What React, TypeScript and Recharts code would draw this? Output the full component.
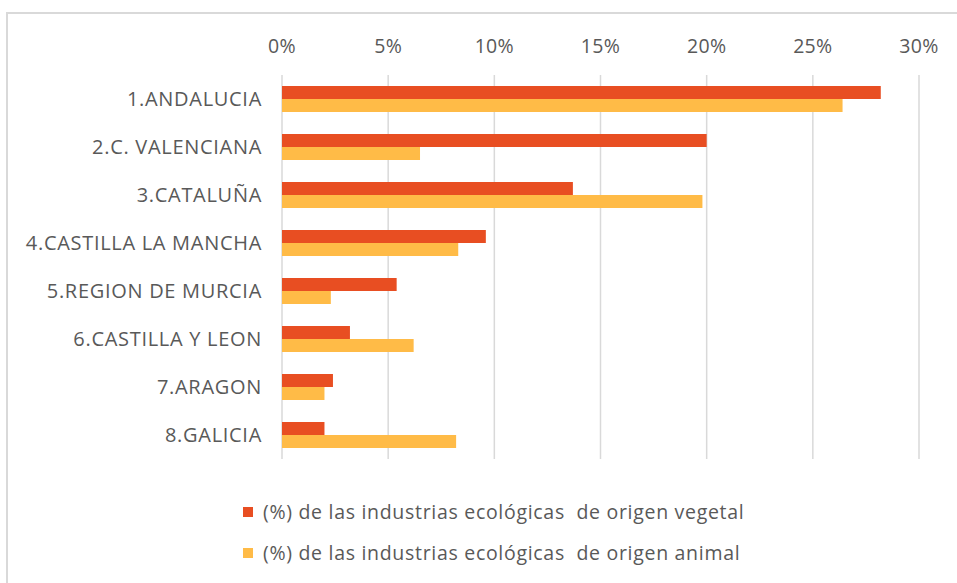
import { BarChart, Bar, XAxis, YAxis, CartesianGrid, Legend } from "recharts";

const regions = [
  "1.ANDALUCIA",
  "2.C. VALENCIANA",
  "3.CATALUÑA",
  "4.CASTILLA LA MANCHA",
  "5.REGION DE MURCIA",
  "6.CASTILLA Y LEON",
  "7.ARAGON",
  "8.GALICIA",
];
const vegetal = [28.2, 20.0, 13.7, 9.6, 5.4, 3.2, 2.4, 2.0];
const animal = [26.4, 6.5, 19.8, 8.3, 2.3, 6.2, 2.0, 8.2];
const xTicks = [0, 5, 10, 15, 20, 25, 30];

const vegName = "(%) de las industrias ecológicas  de origen vegetal";
const aniName = "(%) de las industrias ecológicas  de origen animal";
const seriesOrder = [vegName, aniName];
const RED = "#E84E22";
const YELLOW = "#FFBB47";
const FONT = "'Open Sans', sans-serif";

const data = regions.map((r, i) => ({ region: r, vegetal: vegetal[i], animal: animal[i] }));

function LegendBox({ payload }: any) {
  const items = [...(payload || [])].sort(
    (a: any, b: any) => seriesOrder.indexOf(a.value) - seriesOrder.indexOf(b.value)
  );
  return (
    <div style={{ fontFamily: FONT, fontSize: 19.5, color: "#595959", letterSpacing: 0.7 }}>
      {items.map((p: any) => (
        <div key={p.value} style={{ display: "flex", alignItems: "center", height: 41, whiteSpace: "pre" }}>
          <span style={{ width: 10, height: 10, background: p.color, marginRight: 10, display: "inline-block" }} />
          {p.value}
        </div>
      ))}
    </div>
  );
}

export default function App() {
  return (
    <div style={{ position: "fixed", left: 0, top: 0, width: 957, height: 583, background: "#fff", overflow: "hidden" }}>
      <div style={{ position: "absolute", left: 6, top: 12, width: 980, height: 600, border: "2px solid #d9d9d9" }} />
      <BarChart
        width={957}
        height={583}
        data={data}
        layout="vertical"
        margin={{ top: 45, right: 38, bottom: 124, left: 2 }}
        barGap={0}
        barSize={13}
        style={{ position: "absolute", left: 0, top: 0 }}
      >
        <CartesianGrid horizontal={false} stroke="#d9d9d9" strokeWidth={1.5} />
        <XAxis
          type="number"
          orientation="top"
          domain={[0, 30]}
          ticks={xTicks}
          tickFormatter={(v) => `${v}%`}
          axisLine={false}
          tickLine={false}
          tickSize={0}
          tickMargin={22}
          height={30}
          tick={{ fill: "#595959", fontSize: 19.5, fontFamily: FONT, letterSpacing: 0.3 }}
        />
        <YAxis
          type="category"
          dataKey="region"
          width={280}
          axisLine={false}
          tickLine={false}
          tickSize={0}
          tickMargin={20}
          interval={0}
          tick={{ fill: "#595959", fontSize: 20, fontFamily: FONT, letterSpacing: 0.7 }}
        />
        <Legend
          layout="vertical"
          verticalAlign="middle"
          align="center"
          wrapperStyle={{ top: 491, left: 243, width: 660 }}
          content={<LegendBox />}
        />
        <Bar dataKey="vegetal" name={vegName} fill={RED} isAnimationActive={false} />
        <Bar dataKey="animal" name={aniName} fill={YELLOW} isAnimationActive={false} />
      </BarChart>
    </div>
  );
}
